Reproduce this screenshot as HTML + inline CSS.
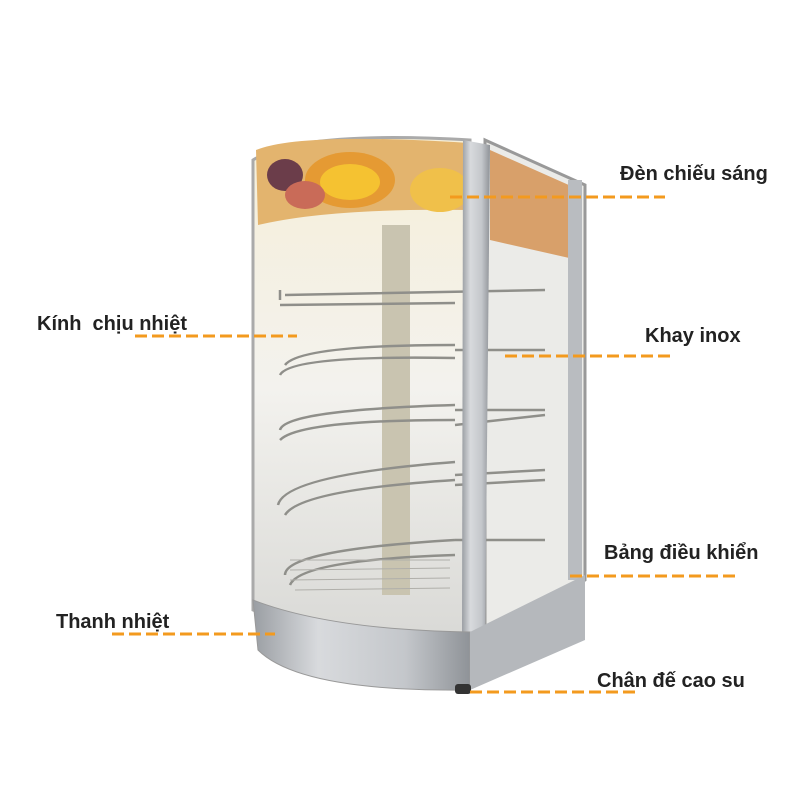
<!DOCTYPE html>
<html><head><meta charset="utf-8"><style>
body{margin:0;background:#fff}
svg{display:block}
text{font-family:"Liberation Sans",sans-serif;font-weight:bold;font-size:20px;fill:#222}
.d{stroke:#f39a1e;stroke-width:3;stroke-dasharray:12 5;fill:none}
</style></head><body>
<svg width="800" height="800" viewBox="0 0 800 800">
<defs>
<linearGradient id="g1" x1="0" x2="1"><stop offset="0" stop-color="#9a9ea3"/><stop offset=".3" stop-color="#d8dadd"/><stop offset=".7" stop-color="#c4c7cb"/><stop offset="1" stop-color="#8f9398"/></linearGradient>
<linearGradient id="gl" x1="0" y1="0" x2="0" y2="1"><stop offset="0" stop-color="#f6efd8"/><stop offset=".5" stop-color="#f3f2ee"/><stop offset="1" stop-color="#d9d9d6"/></linearGradient>
</defs>
<polygon points="485,140 585,185 585,580 485,650" fill="#ebebe8" stroke="#999" stroke-width="3"/>
<polygon points="490,150 580,190 578,260 490,240" fill="#d8a06a"/>
<path d="M253,160 Q300,130 470,140 L470,640 Q330,640 253,610 Z" fill="url(#gl)" stroke="#aaa" stroke-width="3"/>
<path d="M256,150 Q300,132 468,143 L468,210 Q330,208 258,225 Z" fill="#e3b46e"/>
<ellipse cx="350" cy="180" rx="45" ry="28" fill="#e59a33"/><ellipse cx="350" cy="182" rx="30" ry="18" fill="#f5c231"/>
<ellipse cx="440" cy="190" rx="30" ry="22" fill="#f0c04a"/>
<ellipse cx="285" cy="175" rx="18" ry="16" fill="#6b3d4a"/>
<ellipse cx="305" cy="195" rx="20" ry="14" fill="#c96b58"/>
<rect x="382" y="225" width="28" height="370" fill="#c9c4b0"/>
<g fill="none" stroke="#8f8f8a" stroke-width="2.5">
<path d="M280,305 L455,303 M285,295 L545,290 M280,300 L280,290"/>
<path d="M280,375 Q290,355 455,358 M285,365 Q300,345 455,345 M455,350 L545,350"/>
<path d="M280,430 Q285,410 455,405 M280,440 Q300,420 455,420 M455,410 L545,410 M455,425 L545,415"/>
<path d="M278,505 Q285,475 455,462 M285,515 Q300,490 455,480 M455,475 L545,470 M455,485 L545,480"/>
<path d="M285,575 Q285,550 455,540 M290,585 Q300,560 455,555 M455,540 L545,540"/>
</g>
<g stroke="#b0afaa" stroke-width="1">
<path d="M290,560 L450,560 M290,570 L450,568 M290,580 L450,578 M295,590 L450,588"/>
</g>
<polygon points="463,140 490,145 485,650 462,640" fill="url(#g1)"/>
<rect x="568" y="180" width="14" height="400" fill="#b9bcc0"/>
<path d="M253,600 Q330,630 470,632 L470,690 Q300,692 258,650 Z" fill="url(#g1)" stroke="#999"/>
<polygon points="470,632 585,575 585,640 470,690" fill="#b5b8bc"/>
<rect x="455" y="684" width="16" height="10" rx="3" fill="#333"/>
<text x="620" y="180">Đèn chiếu sáng</text>
<line class="d" x1="450" y1="197" x2="665" y2="197"/>
<text x="37" y="330" xml:space="preserve">Kính  chịu nhiệt</text>
<line class="d" x1="135" y1="336" x2="297" y2="336"/>
<text x="645" y="342">Khay inox</text>
<line class="d" x1="505" y1="356" x2="670" y2="356"/>
<text x="604" y="559">Bảng điều khiển</text>
<line class="d" x1="570" y1="576" x2="735" y2="576"/>
<text x="56" y="628">Thanh nhiệt</text>
<line class="d" x1="112" y1="634" x2="275" y2="634"/>
<text x="597" y="687">Chân đế cao su</text>
<line class="d" x1="470" y1="692" x2="635" y2="692"/>
</svg>
</body></html>
